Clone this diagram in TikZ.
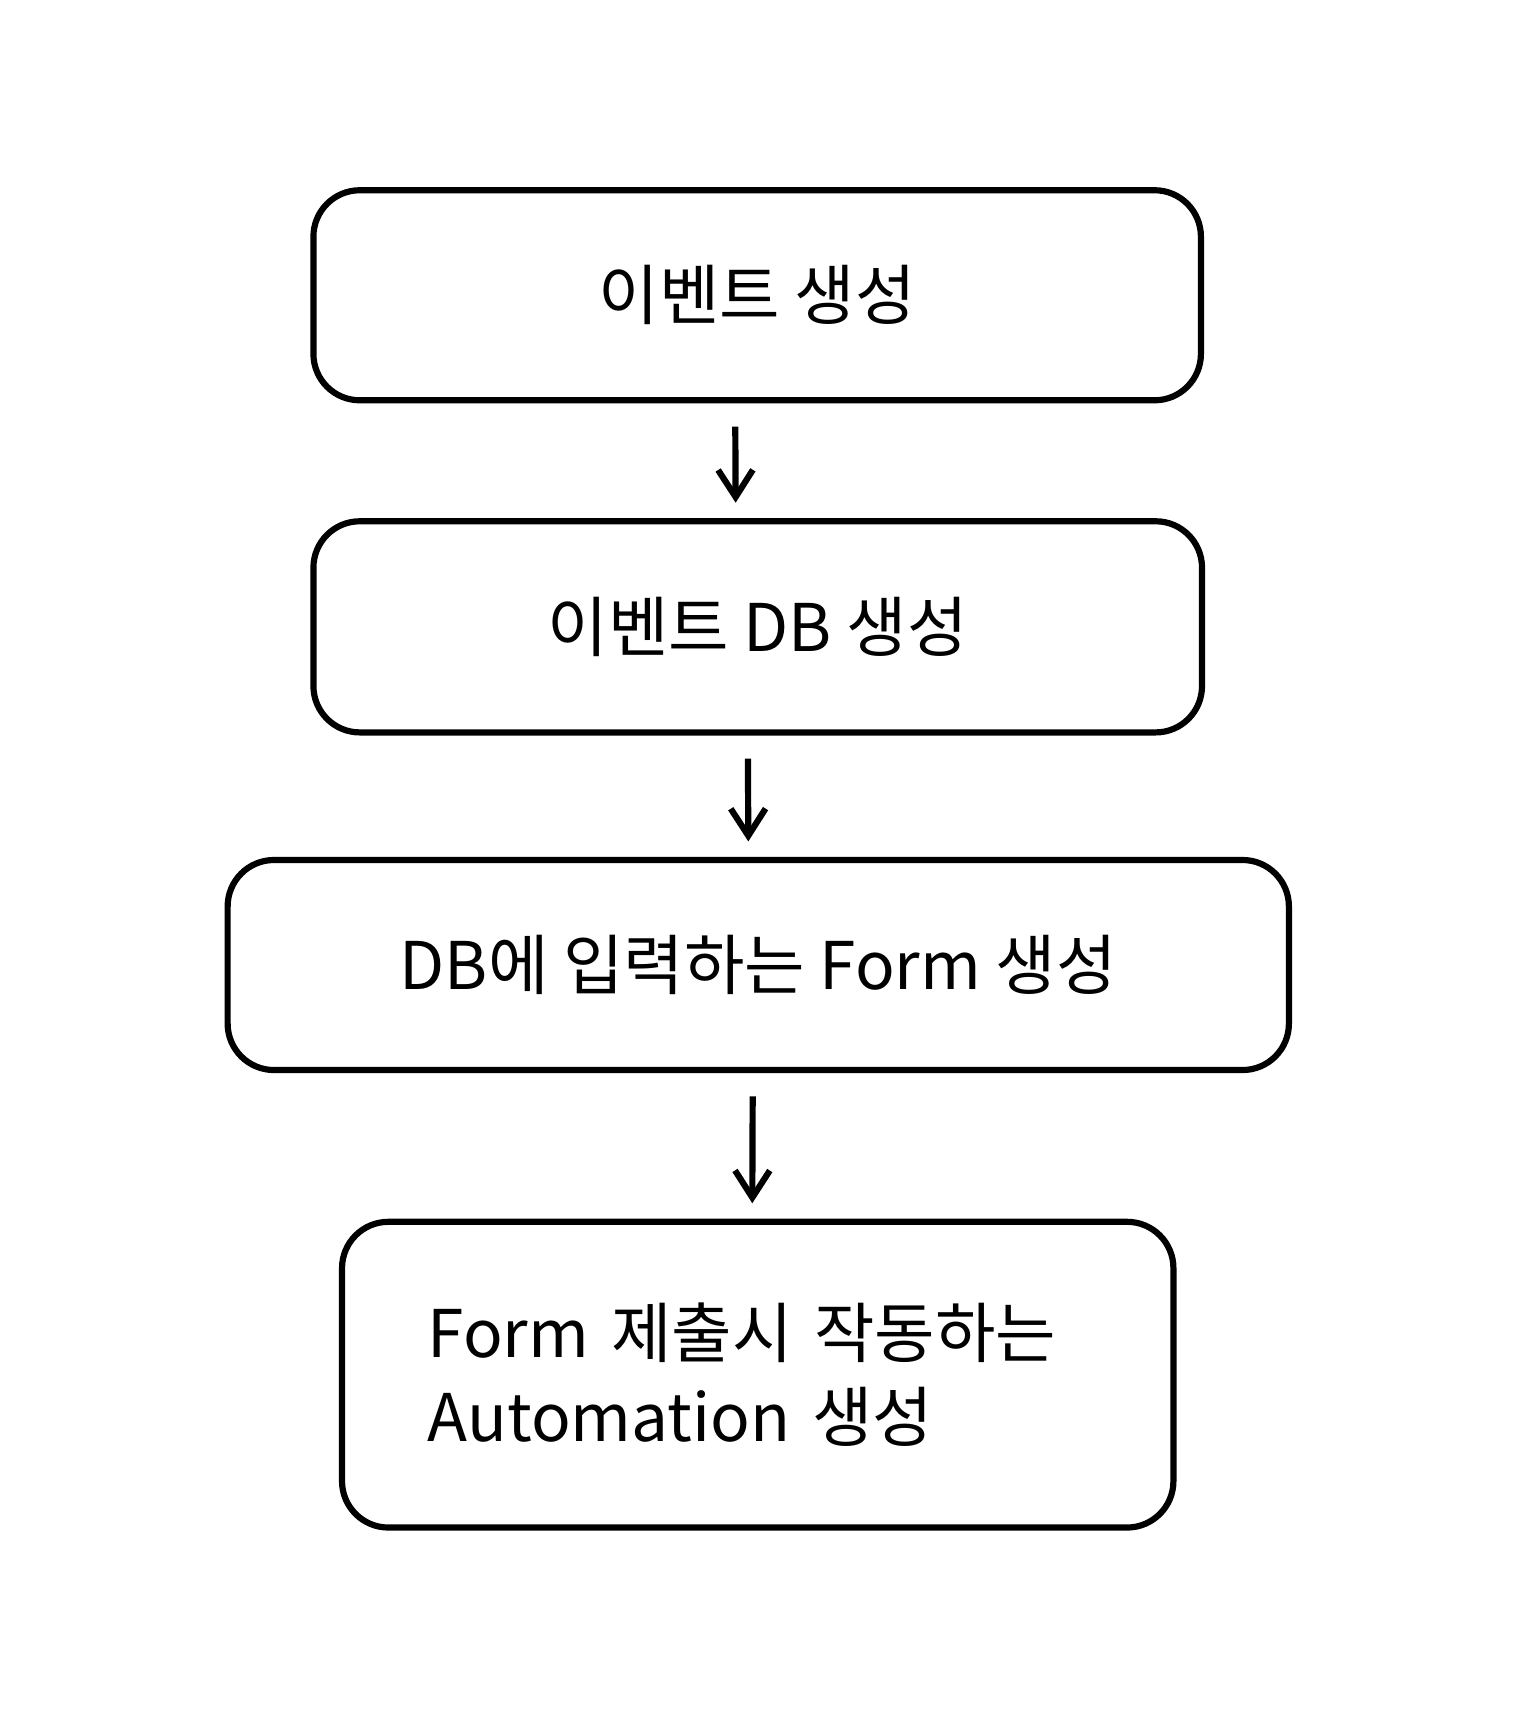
\documentclass[tikz,border=0pt]{standalone}
\usepackage{fontspec}
\setmainfont{Noto Sans CJK KR}
\usetikzlibrary{positioning,arrows.meta}
\tikzset{
  etape/.style={draw,line width=1.6pt,rounded corners=12pt,align=center,
    font=\fontsize{17}{21.5}\selectfont},
  fleche/.style={-{Straight Barb[length=7pt,width=9pt]},line width=1.6pt,
    shorten <=6pt,shorten >=4pt}
}
\begin{document}
\begin{tikzpicture}
\useasboundingbox (0,0) rectangle (13.80,15.64);
%% les boites
	\node[etape,minimum width=8.07cm,minimum height=1.91cm] (event) at (6.885,12.955) {이벤트 생성};
	\node[etape,minimum width=8.08cm,minimum height=1.92cm] (eventdb) at (6.89,9.94) {이벤트 DB 생성};
	\node[etape,minimum width=9.65cm,minimum height=1.91cm] (form) at (6.895,6.865) {DB에 입력하는 Form 생성};
	\node[etape,align=left,text width=6.0cm,minimum width=7.56cm,minimum height=2.78cm] (auto) at (6.89,3.14) {Form 제출시 작동하는\\Automation 생성};

%% fleches
	\draw[fleche] ([xshift=-0.2cm]event.south) -- ([xshift=-0.2cm]eventdb.north);
	\draw[fleche] ([xshift=-0.09cm]eventdb.south) -- ([xshift=-0.09cm]form.north);
	\draw[fleche] ([xshift=-0.05cm]form.south) -- ([xshift=-0.05cm]auto.north);
\end{tikzpicture}
\end{document}
